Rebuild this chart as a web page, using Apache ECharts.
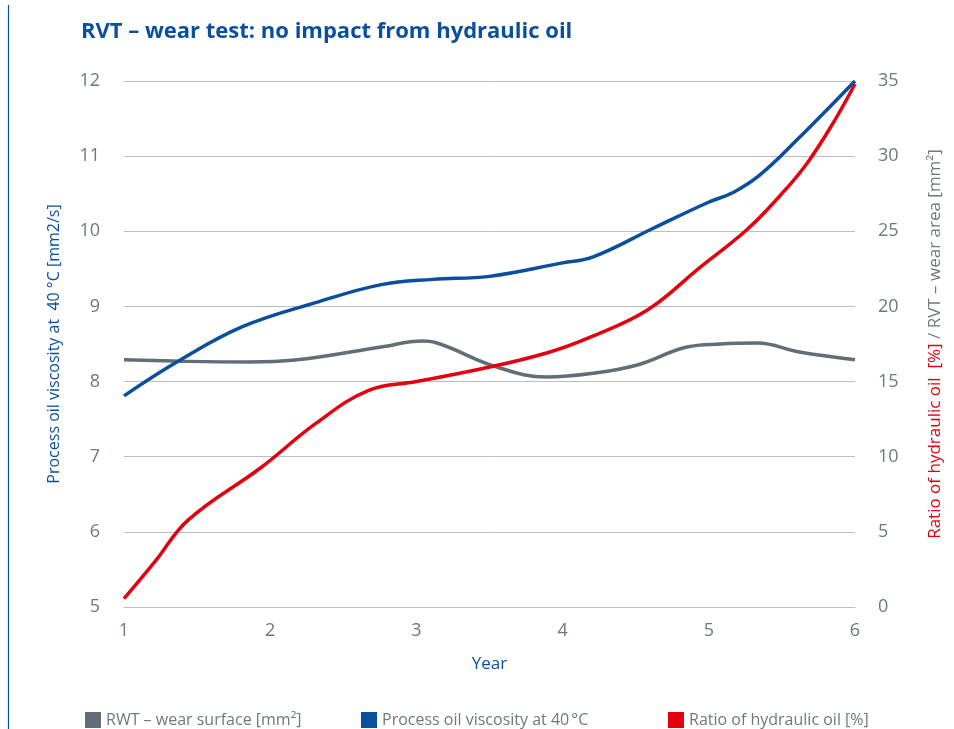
<!DOCTYPE html>
<html><head><meta charset="utf-8">
<script src="https://cdn.jsdelivr.net/npm/echarts@6/dist/echarts.min.js"></script>
<style>html,body{margin:0;padding:0;background:#fff}#c{width:954px;height:729px}</style>
</head><body><div id="c"></div>
<script>
const titleText = 'RVT – wear test: no impact from hydraulic oil';
const xTicks = [1, 2, 3, 4, 5, 6];
const leftTicks = [5, 6, 7, 8, 9, 10, 11, 12];
const rightTicks = [0, 5, 10, 15, 20, 25, 30, 35];

const viscX = [1, 1.37, 1.81, 2.31, 2.76, 3.11, 3.5, 4.0, 4.21, 4.62, 4.99, 5.17, 5.35, 5.6, 6];
const viscY = [7.81, 8.27, 8.73, 9.05, 9.29, 9.36, 9.4, 9.58, 9.66, 10.04, 10.38, 10.52, 10.75, 11.21, 12.0];

const wearX = [1, 1.4, 1.85, 2.17, 2.76, 3.04, 3.13, 3.54, 3.89, 4.21, 4.51, 4.85, 5.08, 5.33, 5.62, 6];
const wearY = [16.45, 16.35, 16.3, 16.43, 17.3, 17.7, 17.6, 16.0, 15.3, 15.55, 16.1, 17.3, 17.5, 17.56, 16.97, 16.45];

const ratioX = [1, 1.21, 1.44, 1.94, 2.31, 2.67, 3.0, 3.47, 3.89, 4.19, 4.58, 4.94, 5.26, 5.49, 5.67, 5.85, 6];
const ratioY = [0.55, 3.0, 5.8, 9.3, 12.2, 14.4, 15.0, 15.9, 16.9, 17.96, 19.76, 22.6, 25.1, 27.4, 29.5, 32.2, 34.8];

const seriesNames = ['RWT – wear surface [mm²]', 'Process oil viscosity at 40\u202f°C', 'Ratio of hydraulic oil [%]'];
const BLUE = '#0a4f9e', RED = '#e3000f', GRAY = '#616e76', TICK = '#6f787e', GRID = '#b9c0c5';
const FONT = 'Open Sans';

const pairs = (xs, ys) => xs.map((x, i) => [x, ys[i]]);

const chart = echarts.init(document.getElementById('c'), null, {renderer: 'canvas'});
const legendBase = {
  top: 707, icon: 'rect', itemWidth: 16, itemHeight: 16, itemGap: 10,
  textStyle: {color: TICK, fontSize: 16, fontFamily: FONT}, selectedMode: false
};
chart.setOption({
  animation: false,
  title: {text: titleText, left: 76, top: 16,
    textStyle: {color: BLUE, fontSize: 22, fontWeight: 'bold', fontFamily: FONT}},
  graphic: [{type: 'line', shape: {x1: 8.5, y1: 5, x2: 8.5, y2: 729}, style: {stroke: BLUE, lineWidth: 1.2}}],
  legend: [
    Object.assign({}, legendBase, {left: 80, data: [seriesNames[0]]}),
    Object.assign({}, legendBase, {left: 356, data: [seriesNames[1]]}),
    Object.assign({}, legendBase, {left: 663, data: [seriesNames[2]]})
  ],
  grid: {left: 124, right: 99, top: 81, bottom: 122},
  xAxis: {
    type: 'value', min: xTicks[0], max: xTicks[xTicks.length - 1], interval: 1,
    name: 'Year', nameLocation: 'middle', nameGap: 49,
    nameTextStyle: {color: BLUE, fontSize: 17, fontFamily: FONT},
    axisLine: {show: true, lineStyle: {color: GRID}}, axisTick: {show: false},
    splitLine: {show: false},
    axisLabel: {color: TICK, fontSize: 18, fontFamily: FONT, margin: 15}
  },
  yAxis: [{
    type: 'value', min: leftTicks[0], max: leftTicks[leftTicks.length - 1], interval: 1,
    name: 'Process oil viscosity at  40 °C [mm2/s]', nameLocation: 'middle', nameGap: 62, nameRotate: 90,
    nameTextStyle: {color: BLUE, fontSize: 16, fontFamily: FONT},
    axisLine: {show: false}, axisTick: {show: false},
    splitLine: {lineStyle: {color: GRID, width: 1}},
    axisLabel: {color: TICK, fontSize: 18, fontFamily: FONT, margin: 24}
  }, {
    type: 'value', min: rightTicks[0], max: rightTicks[rightTicks.length - 1], interval: 5,
    name: '{r|Ratio of hydraulic oil  [%]}{g| / RVT – wear area [mm²]}',
    nameLocation: 'middle', nameGap: 72, nameRotate: 90,
    nameTextStyle: {fontSize: 17, fontFamily: FONT,
      rich: {r: {color: RED, fontSize: 17, fontFamily: FONT}, g: {color: TICK, fontSize: 17, fontFamily: FONT}}},
    axisLine: {show: false}, axisTick: {show: false}, splitLine: {show: false},
    axisLabel: {color: TICK, fontSize: 18, fontFamily: FONT, margin: 23}
  }],
  series: [
    {name: seriesNames[0], type: 'line', yAxisIndex: 1, data: pairs(wearX, wearY), smooth: 0.4,
      showSymbol: false, lineStyle: {color: GRAY, width: 3.5}, itemStyle: {color: GRAY}},
    {name: seriesNames[1], type: 'line', yAxisIndex: 0, data: pairs(viscX, viscY), smooth: 0.4,
      showSymbol: false, lineStyle: {color: BLUE, width: 3.5}, itemStyle: {color: BLUE}},
    {name: seriesNames[2], type: 'line', yAxisIndex: 1, data: pairs(ratioX, ratioY), smooth: 0.4,
      showSymbol: false, lineStyle: {color: RED, width: 3.5}, itemStyle: {color: RED}}
  ]
});
</script></body></html>
